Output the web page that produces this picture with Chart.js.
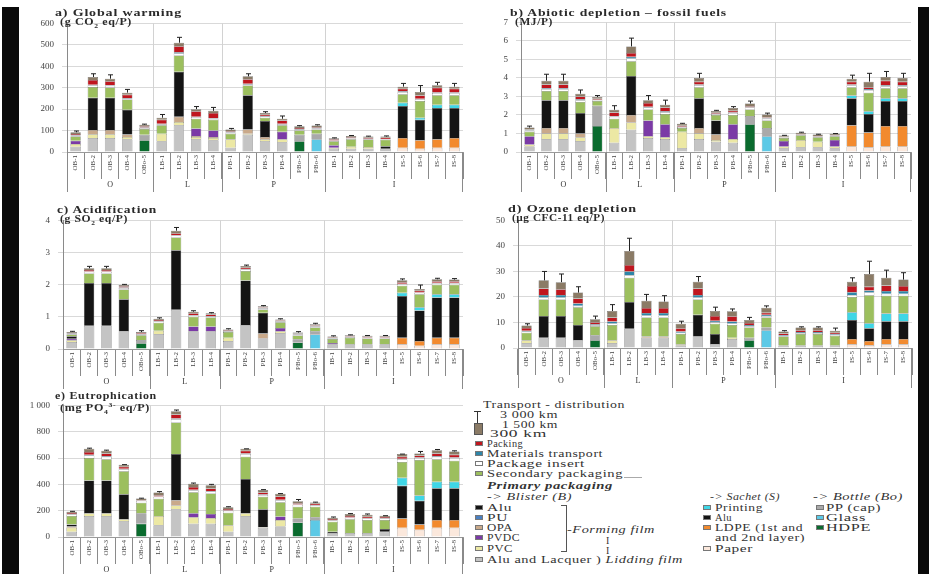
<!DOCTYPE html>
<html>
<head>
<meta charset="utf-8">
<script src="https://cdn.jsdelivr.net/npm/chart.js@4.4.1/dist/chart.umd.min.js"></script>
<style>
  body { margin:0; width:929px; height:574px; background:#fff; overflow:hidden; position:relative;
         font-family:"Liberation Serif", serif; color:#2a2a2a; }
  canvas { position:absolute; }
  .strip { position:absolute; background:#0a0a0a; z-index:5; }
  .ttl { position:absolute; font-size:10px; font-weight:bold; letter-spacing:0.6px; white-space:nowrap; line-height:10px; }
  .unit { position:absolute; font-size:9.5px; font-weight:bold; letter-spacing:0.5px; white-space:nowrap; line-height:10px; }
  .lg { position:absolute; font-size:10px; letter-spacing:0.4px; white-space:nowrap; line-height:10px; color:#333; }
  .lg i { position:absolute; left:0; top:2px; width:8px; height:5px; border:0.5px solid #777; box-sizing:border-box; }
  .lg span { display:inline-block; }
  [data-w] { transform-origin:left top; }
  .it { font-style:italic; }
</style>
</head>
<body>

<div class="strip" style="left:2px;top:7px;width:17px;height:567px"></div>
<div class="strip" style="left:918px;top:7px;width:11px;height:567px"></div>

<canvas id="cA" width="446" height="185" style="left:20px;top:10px"></canvas>
<canvas id="cB" width="440" height="186" style="left:474px;top:9px"></canvas>
<canvas id="cC" width="446" height="185" style="left:20px;top:207px"></canvas>
<canvas id="cD" width="441" height="184" style="left:474px;top:207px"></canvas>
<canvas id="cE" width="446" height="182" style="left:20px;top:392px"></canvas>

<div class="ttl" data-w="127" style="left:55px;top:8px">a) Global warming</div>
<div class="unit" data-w="72" style="left:60px;top:17px">(g CO<sub style="font-size:6px">2</sub> eq/P)</div>
<div class="ttl" data-w="217" style="left:510px;top:8px">b) Abiotic depletion – fossil fuels</div>
<div class="unit" data-w="38" style="left:515px;top:17px">(MJ/P)</div>
<div class="ttl" data-w="100" style="left:57px;top:205px">c) Acidification</div>
<div class="unit" data-w="68" style="left:60px;top:214px">(g SO<sub style="font-size:6px">2</sub> eq/P)</div>
<div class="ttl" data-w="129" style="left:508px;top:204px">d) Ozone depletion</div>
<div class="unit" data-w="93" style="left:512px;top:213px">(µg CFC-11 eq/P)</div>
<div class="ttl" data-w="102" style="left:55px;top:391px">e) Eutrophication</div>
<div class="unit" data-w="90" style="left:60px;top:400px">(mg PO<sub style="font-size:6px">4</sub><sup style="font-size:6px">3-</sup> eq/P)</div>

<!-- legend -->
<div class="lg" data-w="142" style="left:483px;top:400px">Transport - distribution</div>
<div style="position:absolute;left:477px;top:411px;width:1px;height:16px;background:#333"></div>
<div style="position:absolute;left:474px;top:411px;width:7px;height:1px;background:#333"></div>
<div style="position:absolute;left:474px;top:423px;width:7px;height:10px;background:#8b7b66;border:0.5px solid #555"></div>
<div class="lg" data-w="58" style="left:500px;top:410px">3 000 km</div>
<div class="lg" data-w="56" style="left:502px;top:420px">1 500 km</div>
<div class="lg" data-w="57" style="left:490px;top:429px">300 km</div>

<div class="lg" style="left:475px;top:439px"><i style="background:#c0161e"></i></div>
<div class="lg" data-w="36" style="left:487px;top:439px">Packing</div>
<div class="lg" style="left:475px;top:449px"><i style="background:#2e86a8"></i></div>
<div class="lg" data-w="116" style="left:487px;top:449px">Materials transport</div>
<div class="lg" style="left:475px;top:459px"><i style="background:#ffffff"></i></div>
<div class="lg" data-w="98" style="left:487px;top:459px">Package insert</div>
<div class="lg" style="left:475px;top:469px"><i style="background:#9cbf5e"></i></div>
<div class="lg" data-w="136" style="left:487px;top:469px">Secondary packaging</div>
<div style="position:absolute;left:624px;top:477px;width:18px;height:1px;background:#aaa"></div>
<div class="lg it" data-w="126" style="left:487px;top:481px;font-weight:bold">Primary packaging</div>
<div class="lg it" data-w="85" style="left:487px;top:492px">-&gt; Blister (B)</div>

<div class="lg" style="left:475px;top:503px"><i style="background:#141414"></i></div>
<div class="lg" data-w="25" style="left:487px;top:503px">Alu</div>
<div class="lg" style="left:475px;top:513px"><i style="background:#4a7fc0"></i></div>
<div class="lg" data-w="21" style="left:487px;top:513px">PU</div>
<div class="lg" style="left:475px;top:523px"><i style="background:#c9a98a"></i></div>
<div class="lg" data-w="26" style="left:487px;top:523px">OPA</div>
<div class="lg" style="left:475px;top:533px"><i style="background:#7b3aa6"></i></div>
<div class="lg" data-w="33" style="left:487px;top:533px">PVDC</div>
<div class="lg" style="left:475px;top:544px"><i style="background:#ece8a4"></i></div>
<div class="lg" data-w="26" style="left:487px;top:544px">PVC</div>
<div class="lg" style="left:475px;top:555px"><i style="background:#c4c4c4"></i></div>
<div class="lg" data-w="196" style="left:487px;top:555px">Alu and Lacquer ) <span class="it">Lidding film</span></div>
<div style="position:absolute;left:566px;top:505px;width:1px;height:47px;background:#555"></div>
<div style="position:absolute;left:561px;top:505px;width:5px;height:1px;background:#555"></div>
<div style="position:absolute;left:561px;top:551px;width:5px;height:1px;background:#555"></div>
<div class="lg it" data-w="88" style="left:567px;top:525px">-Forming film</div>
<div class="lg" style="left:606px;top:536px">I</div>
<div class="lg" style="left:606px;top:546px">I</div>

<div class="lg it" data-w="70" style="left:710px;top:492px">-&gt; Sachet (S)</div>
<div class="lg" style="left:703px;top:503px"><i style="background:#3fd6e6"></i></div>
<div class="lg" data-w="48" style="left:715px;top:503px">Printing</div>
<div class="lg" style="left:703px;top:513px"><i style="background:#141414"></i></div>
<div class="lg" data-w="17" style="left:715px;top:513px">Alu</div>
<div class="lg" style="left:703px;top:523px"><i style="background:#f28a2e"></i></div>
<div class="lg" data-w="88" style="left:715px;top:523px">LDPE (1st and</div>
<div class="lg" data-w="90" style="left:715px;top:533px">and 2nd layer)</div>
<div class="lg" style="left:703px;top:544px"><i style="background:#fbe8dc"></i></div>
<div class="lg" data-w="38" style="left:715px;top:544px">Paper</div>

<div class="lg it" data-w="90" style="left:813px;top:492px">-&gt; Bottle (Bo)</div>
<div class="lg" style="left:816px;top:503px"><i style="background:#a9a9a9"></i></div>
<div class="lg" data-w="55" style="left:826px;top:503px">PP (cap)</div>
<div class="lg" style="left:816px;top:513px"><i style="background:#5cc9e6"></i></div>
<div class="lg" data-w="40" style="left:826px;top:513px">Glass</div>
<div class="lg" style="left:816px;top:523px"><i style="background:#0a6b2e"></i></div>
<div class="lg" data-w="45" style="left:826px;top:523px">HDPE</div>

<script>
// categories and groups
const categories = ['OB-1','OB-2','OB-3','OB-4','OBo-5','LB-1','LB-2','LB-3','LB-4',
   'PB-1','PB-2','PB-3','PB-4','PBo-5','PBo-6','IB-1','IB-2','IB-3','IB-4','IS-5','IS-6','IS-7','IS-8'];
const groups = ['O','L','P','I'];
const groupEnds = [4, 8, 14, 22];

// stack components (bottom -> top)
const compNames = ['Alu and Lacquer','Paper','HDPE','Glass','PVC','OPA','PVDC','LDPE','Alu','PP (cap)',
   'Printing','Secondary packaging','Package insert','Materials transport','Packing','Transport 300 km'];
const compColors = ['#c4c4c4','#fbe8dc','#0a6b2e','#5cc9e6','#ece8a4','#c9a98a','#7b3aa6','#f28a2e','#141414','#a9a9a9',
   '#3fd6e6','#9cbf5e','#ffffff','#2e86a8','#c0161e','#8b7b66'];

/* a) global warming, g CO2 eq/P */
const gwLid   = [25,65,65,60,0, 50,125,60,55, 20,80,50,45,0,0, 15,15,15,15, 0,0,0,0];
const gwPaper = [0,0,0,0,0, 0,0,0,0, 0,0,0,0,0,0, 0,0,0,0, 20,15,20,20];
const gwHdpe  = [0,0,0,0,55, 0,0,0,0, 0,0,0,0,50,0, 0,0,0,0, 0,0,0,0];
const gwGlass = [0,0,0,0,0, 0,0,0,0, 0,0,0,0,0,60, 0,0,0,0, 0,0,0,0];
const gwPvc   = [12,18,18,10,0, 35,15,10,10, 40,5,10,15,0,0, 5,10,8,0, 0,0,0,0];
const gwOpa   = [0,20,20,12,0, 0,25,5,5, 0,20,10,0,0,0, 0,0,0,0, 0,0,0,0];
const gwPvdc  = [15,0,0,0,0, 0,0,35,30, 0,0,0,35,0,0, 12,0,0,0, 0,0,0,0];
const gwLdpe  = [0,0,0,0,0, 0,0,0,0, 0,0,0,0,0,0, 0,0,0,0, 45,40,40,45];
const gwAlu   = [0,150,150,115,0, 0,210,0,0, 0,160,75,0,0,0, 0,0,0,12, 150,95,145,140];
const gwPp    = [0,0,0,0,25, 0,0,0,0, 0,0,0,0,30,25, 0,0,0,0, 0,0,0,0];
const gwPrint = [0,0,0,0,0, 0,0,0,0, 0,0,0,0,0,0, 0,0,0,0, 15,10,15,15];
const gwSec   = [20,50,48,48,27, 40,75,45,50, 25,45,15,30,20,20, 18,35,35,30, 40,78,45,45];
const gwIns   = [4,8,8,5,5, 5,10,8,5, 5,5,6,5,5,4, 3,3,3,3, 10,8,10,10];
const gwMat   = [2,3,3,2,2, 2,5,2,2, 2,3,2,2,2,2, 1,1,1,1, 3,3,3,3];
const gwPack  = [6,22,18,15,6, 18,28,25,25, 5,22,6,15,5,5, 5,5,5,5, 12,15,22,17];
const gwTr    = [8,14,12,10,7, 10,17,10,10, 8,13,8,8,8,8, 5,6,5,6, 10,16,12,10];
const gwErr   = [98,365,360,292,130, 175,535,212,208, 110,365,188,168,123,127, 66,77,74,75, 320,310,325,320];
const gwTicks = ['0','100','200','300','400','500','600'];

/* b) abiotic depletion fossil fuels, MJ/P */
const adLid   = [0.3,0.7,0.7,0.6,0, 0.5,1.2,0.75,0.7, 0.2,0.7,0.55,0.5,0,0, 0.2,0.25,0.25,0.2, 0,0,0,0];
const adPaper = [0,0,0,0,0, 0,0,0,0, 0,0,0,0,0,0, 0,0,0,0, 0.3,0.25,0.3,0.3];
const adHdpe  = [0,0,0,0,1.4, 0,0,0,0, 0,0,0,0,1.5,0, 0,0,0,0, 0,0,0,0];
const adGlass = [0,0,0,0,0, 0,0,0,0, 0,0,0,0,0,0.85, 0,0,0,0, 0,0,0,0];
const adPvc   = [0.1,0.3,0.3,0.2,0, 0.8,0.4,0.1,0.1, 0.9,0.3,0.1,0.2,0,0, 0.1,0.4,0.3,0.1, 0,0,0,0];
const adOpa   = [0,0.3,0.3,0.2,0, 0,0.4,0,0, 0,0.3,0.3,0,0,0, 0,0,0,0, 0,0,0,0];
const adPvdc  = [0.45,0,0,0,0, 0,0,0.85,0.7, 0,0,0,0.8,0,0, 0.3,0,0,0.35, 0,0,0,0];
const adLdpe  = [0,0,0,0,0, 0,0,0,0, 0,0,0,0,0,0, 0,0,0,0, 1.15,0.8,1.1,1.1];
const adAlu   = [0,1.5,1.5,1.1,0, 0,2.1,0,0, 0,1.6,0.75,0,0,0, 0,0,0,0, 1.45,1.0,1.35,1.35];
const adPp    = [0,0,0,0,1.1, 0,0,0,0, 0,0,0,0,0.45,0.45, 0,0,0,0, 0,0,0,0];
const adPrint = [0,0,0,0,0, 0,0,0,0, 0,0,0,0,0,0, 0,0,0,0, 0.15,0.15,0.15,0.15];
const adSec   = [0.25,0.5,0.5,0.6,0.25, 0.5,0.8,0.6,0.55, 0.2,0.6,0.3,0.5,0.35,0.4, 0.15,0.25,0.25,0.2, 0.45,1.0,0.55,0.55];
const adIns   = [0.05,0.1,0.1,0.1,0.05, 0.1,0.15,0.1,0.1, 0.05,0.1,0.05,0.1,0.1,0.1, 0.03,0.03,0.03,0.03, 0.1,0.15,0.1,0.1];
const adMat   = [0.02,0.05,0.05,0.05,0.02, 0.03,0.1,0.05,0.05, 0.02,0.05,0.02,0.03,0.02,0.02, 0.01,0.01,0.01,0.01, 0.05,0.05,0.05,0.05];
const adPack  = [0.05,0.2,0.2,0.15,0.05, 0.2,0.2,0.2,0.2, 0.05,0.15,0.05,0.1,0.05,0.05, 0.03,0.03,0.03,0.03, 0.15,0.1,0.25,0.2];
const adTr    = [0.1,0.2,0.2,0.15,0.1, 0.15,0.35,0.15,0.15, 0.1,0.2,0.1,0.15,0.15,0.15, 0.07,0.07,0.07,0.07, 0.15,0.3,0.2,0.2];
const adErr   = [1.4,4.2,4.2,3.35,3.05, 2.5,6.15,3.05,2.8, 1.55,4.25,2.25,2.45,2.75,2.1, 0.9,1.07,0.96,1.0, 4.15,4.25,4.35,4.25];
const adTicks = ['0','1','2','3','4','5','6','7'];

/* c) acidification, g SO2 eq/P */
const apLid   = [0.22,0.72,0.72,0.55,0, 0.47,1.22,0.55,0.55, 0.25,0.75,0.33,0.5,0,0, 0.15,0.15,0.15,0.15, 0,0,0,0];
const apPaper = [0,0,0,0,0, 0,0,0,0, 0,0,0,0,0,0, 0,0,0,0, 0.15,0.1,0.15,0.15];
const apHdpe  = [0,0,0,0,0.18, 0,0,0,0, 0,0,0,0,0.2,0, 0,0,0,0, 0,0,0,0];
const apGlass = [0,0,0,0,0, 0,0,0,0, 0,0,0,0,0,0.45, 0,0,0,0, 0,0,0,0];
const apPvc   = [0.05,0,0,0,0, 0.1,0,0,0, 0.1,0,0,0.05,0,0, 0,0,0,0, 0,0,0,0];
const apOpa   = [0,0,0,0,0, 0,0,0,0, 0,0,0.15,0,0,0, 0,0,0,0, 0,0,0,0];
const apPvdc  = [0.05,0,0,0,0, 0,0,0.15,0.15, 0,0,0,0.1,0,0, 0.04,0,0,0, 0,0,0,0];
const apLdpe  = [0,0,0,0,0, 0,0,0,0, 0,0,0,0,0,0, 0,0,0,0, 0.2,0.15,0.2,0.2];
const apAlu   = [0.08,1.33,1.33,1.0,0, 0,1.85,0,0, 0,1.38,0.65,0,0,0, 0,0,0,0, 1.3,0.95,1.25,1.25];
const apPp    = [0,0,0,0,0.1, 0,0,0,0, 0,0,0,0,0.1,0.1, 0,0,0,0, 0,0,0,0];
const apPrint = [0,0,0,0,0, 0,0,0,0, 0,0,0,0,0,0, 0,0,0,0, 0.1,0.1,0.1,0.1];
const apSec   = [0.05,0.3,0.3,0.3,0.15, 0.25,0.4,0.3,0.28, 0.18,0.3,0.1,0.18,0.12,0.12, 0.12,0.2,0.18,0.18, 0.22,0.4,0.3,0.3];
const apIns   = [0.02,0.05,0.05,0.05,0.03, 0.04,0.06,0.05,0.04, 0.02,0.05,0.04,0.03,0.03,0.03, 0.02,0.02,0.02,0.02, 0.05,0.05,0.05,0.05];
const apMat   = [0.01,0.01,0.01,0.01,0.01, 0.01,0.01,0.01,0.01, 0.01,0.01,0.01,0.01,0.01,0.01, 0.01,0.01,0.01,0.01, 0.01,0.01,0.01,0.01];
const apPack  = [0.02,0.05,0.05,0.04,0.02, 0.03,0.06,0.05,0.04, 0.02,0.04,0.02,0.02,0.02,0.02, 0.02,0.02,0.02,0.02, 0.05,0.05,0.05,0.05];
const apTr    = [0.03,0.05,0.05,0.04,0.04, 0.04,0.08,0.05,0.04, 0.03,0.05,0.03,0.03,0.03,0.04, 0.03,0.03,0.03,0.03, 0.06,0.06,0.06,0.05];
const apErr   = [0.55,2.57,2.57,2.01,0.57, 0.97,3.78,1.19,1.13, 0.63,2.61,1.35,0.94,0.54,0.8, 0.41,0.44,0.42,0.42, 2.18,1.99,2.2,2.19];
const apTicks = ['0','1','2','3','4'];

/* d) ozone depletion, ug CFC-11 eq/P */
const odLid   = [2,4,4,3,0, 2,7.5,4,4, 1,4.5,1.5,3.5,0,0, 1,1,1,1, 0,0,0,0];
const odPaper = [0,0,0,0,0, 0,0,0,0, 0,0,0,0,0,0, 0,0,0,0, 1.5,1.2,1.5,1.5];
const odHdpe  = [0,0,0,0,3, 0,0,0,0, 0,0,0,0,3,0, 0,0,0,0, 0,0,0,0];
const odGlass = [0,0,0,0,0, 0,0,0,0, 0,0,0,0,0,7, 0,0,0,0, 0,0,0,0];
const odPvc   = [1,0,0,0,0, 1,0,0,0, 0.5,0,0,0.5,0,0, 0,0,0,0, 0,0,0,0];
const odOpa   = [0,0,0,0,0, 0,0,0.5,0.5, 0,0,0,0,0,0, 0,0,0,0, 0,0,0,0];
const odPvdc  = [0,0,0,0,0, 0,0,0,0, 0,0,0,0,0,0, 0,0,0,0, 0,0,0,0];
const odLdpe  = [0,0,0,0,0, 0,0,0,0, 0,0,0,0,0,0, 0,0,0,0, 2,1.5,2,2];
const odAlu   = [0,8.5,8.5,6,0, 0,10.5,0,0, 0,8.5,4,0,0,0, 0,0,0,0, 7.5,5,7,7];
const odPp    = [0,0,0,0,2, 0,0,0,0, 0,0,0,0,1,1, 0,0,0,0, 0,0,0,0];
const odPrint = [0,0,0,0,0, 0,0,0,0, 0,0,0,0,0,0, 0,0,0,0, 3,2,3,3];
const odSec   = [3,6.5,6.5,7,3.5, 6,9.5,7.5,7.5, 4,6,4,5,4,4, 3.5,4.5,4.5,3.8, 6,11,7,7];
const odIns   = [0.5,0.8,0.8,0.6,0.4, 0.6,1,0.7,0.7, 0.5,0.8,0.6,0.6,0.5,0.5, 0.3,0.4,0.4,0.3, 0.8,1,0.8,0.8];
const odMat   = [0.3,1,1,0.8,0.4, 0.8,1.5,1,1, 0.5,1,0.6,0.8,0.5,0.5, 0.3,0.4,0.4,0.3, 1,0.8,1,1];
const odPack  = [1,2.5,2.2,2,0.8, 1.6,2.5,2,2, 1.2,2.5,1.8,2,0.8,0.8, 0.6,0.7,0.7,0.6, 2.5,1.5,2.2,2];
const odTr    = [1,3.2,2.8,2.3,1.2, 2.5,5.5,2.8,2.5, 1.8,2.7,2,2,1.2,2, 0.8,1,1,0.8, 1.7,5,3,2.5];
const odErr   = [9.5,30,29,24,12.5, 17,43,21,20.5, 10.5,28,16,15.3,12,16.5, 6.8,8.3,8.3,7.8, 27.5,34,30.5,29.5];
const odTicks = ['0','10','20','30','40','50'];

/* e) eutrophication, mg PO4 eq/P */
const epLid   = [40,160,160,120,0, 90,210,100,100, 40,160,70,80,0,0, 30,30,30,40, 0,0,0,0];
const epPaper = [0,0,0,0,0, 0,0,0,0, 0,0,0,0,0,0, 0,0,0,0, 70,55,70,70];
const epHdpe  = [0,0,0,0,100, 0,0,0,0, 0,0,0,0,110,0, 0,0,0,0, 0,0,0,0];
const epGlass = [0,0,0,0,0, 0,0,0,0, 0,0,0,0,0,130, 0,0,0,0, 0,0,0,0];
const epPvc   = [30,20,20,15,0, 70,30,50,45, 50,20,5,50,0,0, 0,0,0,0, 0,0,0,0];
const epOpa   = [10,0,0,0,0, 0,40,0,0, 0,0,0,0,0,0, 0,0,0,0, 0,0,0,0];
const epPvdc  = [0,0,0,0,0, 0,0,30,30, 0,0,0,25,0,0, 0,0,0,0, 0,0,0,0];
const epLdpe  = [0,0,0,0,0, 0,0,0,0, 0,0,0,0,0,0, 0,0,0,0, 70,40,60,60];
const epAlu   = [15,250,250,190,0, 0,350,0,0, 0,260,135,0,0,0, 10,0,0,20, 250,180,240,240];
const epPp    = [0,0,0,0,80, 0,0,0,0, 0,0,0,0,30,20, 0,0,0,0, 0,0,0,0];
const epPrint = [0,0,0,0,0, 0,0,0,0, 0,0,0,0,0,0, 0,0,0,0, 60,40,50,50];
const epSec   = [65,170,160,175,80, 130,240,160,155, 95,170,95,110,90,80, 75,105,100,70, 120,270,170,160];
const epIns   = [12,20,20,15,15, 15,25,15,15, 15,20,15,15,15,12, 10,12,12,12, 20,15,20,20];
const epMat   = [2,5,5,4,2, 3,6,4,4, 2,5,3,3,2,2, 2,2,2,2, 5,5,5,5];
const epPack  = [8,20,20,15,5, 10,30,20,20, 10,20,15,25,10,8, 10,10,10,8, 15,15,20,20];
const epTr    = [10,25,20,15,10, 20,25,25,25, 15,15,20,20,15,10, 10,15,15,10, 20,15,25,25];
const epErr   = [195,675,660,550,295, 345,965,410,400, 230,670,360,330,285,265, 152,178,175,162, 630,650,665,655];
const epTicks = ['0','200','400','600','800','1 000'];

const FONT = '"Liberation Serif", serif';

/* stretch the html texts to the widths they have in the figure */
document.querySelectorAll('[data-w]').forEach(el => {
   let w = el.getBoundingClientRect().width;
   if(w > 0) el.style.transform = 'scaleX(' + (el.dataset.w / w) + ')';
});

/* group separators + group letters under the category labels */
const groupPlugin = {
   id: 'groupAxis',
   beforeDatasetsDraw(chart){
      let {ctx, chartArea: a, scales: {x}} = chart;
      ctx.save();
      ctx.strokeStyle = '#d2d2d2';
      ctx.lineWidth = 1;
      groupEnds.slice(0,-1).forEach(i => {
         let px = Math.round((x.getPixelForValue(i) + x.getPixelForValue(i+1)) / 2) + 0.5;
         ctx.beginPath(); ctx.moveTo(px, a.top); ctx.lineTo(px, a.bottom); ctx.stroke();
      });
      ctx.restore();
   },
   afterDraw(chart){
      let {ctx, chartArea: a, scales: {x}} = chart;
      ctx.save();
      ctx.strokeStyle = '#8a8a8a';
      ctx.fillStyle = '#333';
      ctx.lineWidth = 1;
      ctx.font = '8px ' + FONT;
      ctx.textAlign = 'center';
      ctx.textBaseline = 'middle';
      let start = 0;
      let last = categories.length - 1;
      groupEnds.forEach((end, g) => {
         let left = start === 0 ? a.left : (x.getPixelForValue(start-1) + x.getPixelForValue(start)) / 2;
         let right = end === last ? a.right : (x.getPixelForValue(end) + x.getPixelForValue(end+1)) / 2;
         let lx = Math.round(left) + 0.5;
         ctx.beginPath(); ctx.moveTo(lx, start === 0 ? a.top : a.bottom); ctx.lineTo(lx, a.bottom + 40); ctx.stroke();
         if(end === last){
            let rx = Math.round(right) - 0.5;
            ctx.beginPath(); ctx.moveTo(rx, a.bottom); ctx.lineTo(rx, a.bottom + 40); ctx.stroke();
         }
         ctx.fillText(groups[g], (left + right) / 2, a.bottom + 33);
         start = end + 1;
      });
      ctx.restore();
   }
};

/* transport error bars (300 km -> 3 000 km) */
const errPlugin = {
   id: 'errbars',
   afterDatasetsDraw(chart, args, opts){
      let vals = opts.values;
      if(!vals) return;
      let ctx = chart.ctx;
      let y = chart.scales.y;
      let meta = chart.getDatasetMeta(chart.data.datasets.length - 1);
      ctx.save();
      ctx.strokeStyle = '#222';
      ctx.lineWidth = 1;
      meta.data.forEach((bar, i) => {
         let yt = y.getPixelForValue(vals[i]);
         let bx = Math.round(bar.x) + 0.5;
         ctx.beginPath();
         ctx.moveTo(bx, bar.y); ctx.lineTo(bx, yt);
         ctx.moveTo(bx - 2.5, yt); ctx.lineTo(bx + 2.5, yt);
         ctx.stroke();
      });
      ctx.restore();
   }
};

function makePanel(id, series, err, yMax, yStep, tickLabels, yWidth, xHeight){

   let datasets = series.map((arr, j) => ({
      label: compNames[j],
      data: arr,
      backgroundColor: compColors[j],
      borderColor: '#5a5a5a',
      borderWidth: 0.5,
      barPercentage: 0.6,
      categoryPercentage: 1
   }));

   return new Chart(document.getElementById(id), {
      type: 'bar',
      data: { labels: categories, datasets: datasets },
      options: {
         responsive: false,
         animation: false,
         layout: { padding: { top: 5, right: 3, left: 0, bottom: 0 } },
         plugins: {
            legend: { display: false },
            tooltip: { enabled: false },
            errbars: { values: err }
         },
         scales: {
            x: {
               stacked: true,
               afterFit: s => { s.height = xHeight; },
               grid: { drawOnChartArea: false, drawTicks: true, tickLength: 27, color: '#8a8a8a', offset: true },
               border: { color: '#9a9a9a' },
               ticks: {
                  autoSkip: false, minRotation: 90, maxRotation: 90,
                  padding: -24, color: '#444',
                  font: { size: 7, family: FONT }
               }
            },
            y: {
               stacked: true,
               min: 0, max: yMax,
               afterFit: s => { s.width = yWidth; },
               grid: { color: '#d9d9d9', tickLength: 5 },
               border: { color: '#8a8a8a' },
               ticks: {
                  stepSize: yStep, padding: 8, color: '#444',
                  font: { size: 9, family: FONT },
                  callback: (v, i) => tickLabels[i]
               }
            }
         }
      },
      plugins: [groupPlugin, errPlugin]
   });
}

makePanel('cA',
   [gwLid,gwPaper,gwHdpe,gwGlass,gwPvc,gwOpa,gwPvdc,gwLdpe,gwAlu,gwPp,gwPrint,gwSec,gwIns,gwMat,gwPack,gwTr],
   gwErr, 600, 100, gwTicks, 47, 43);

makePanel('cB',
   [adLid,adPaper,adHdpe,adGlass,adPvc,adOpa,adPvdc,adLdpe,adAlu,adPp,adPrint,adSec,adIns,adMat,adPack,adTr],
   adErr, 7, 1, adTicks, 47, 43);

makePanel('cC',
   [apLid,apPaper,apHdpe,apGlass,apPvc,apOpa,apPvdc,apLdpe,apAlu,apPp,apPrint,apSec,apIns,apMat,apPack,apTr],
   apErr, 4, 1, apTicks, 43, 43);

makePanel('cD',
   [odLid,odPaper,odHdpe,odGlass,odPvc,odOpa,odPvdc,odLdpe,odAlu,odPp,odPrint,odSec,odIns,odMat,odPack,odTr],
   odErr, 50, 10, odTicks, 44, 43);

makePanel('cE',
   [epLid,epPaper,epHdpe,epGlass,epPvc,epOpa,epPvdc,epLdpe,epAlu,epPp,epPrint,epSec,epIns,epMat,epPack,epTr],
   epErr, 1000, 200, epTicks, 43, 37);
</script>
</body>
</html>
